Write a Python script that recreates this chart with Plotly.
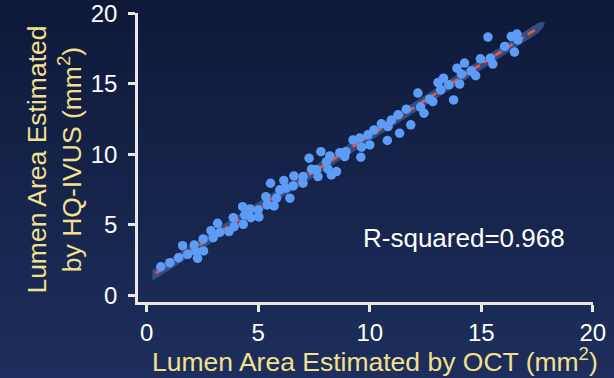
import numpy as np
import plotly.graph_objects as go

# Data (mm^2)
oct_area = [0.63, 1.04, 1.43, 1.61, 1.84, 2.13, 2.21, 2.28, 2.55, 2.53,
            2.88, 2.98, 3.18, 3.28, 3.69, 3.88, 3.92, 4.30, 4.33, 4.40,
            4.63, 4.67, 5.00, 5.03, 5.34, 5.40, 5.55, 5.71, 5.82, 5.97,
            6.15, 6.24, 6.42, 6.57, 6.60, 7.01, 7.01, 7.28, 7.39, 7.61,
            7.68, 7.81, 8.06, 8.13, 8.28, 8.21, 8.51, 8.66, 8.88, 8.93,
            9.25, 9.55, 9.63, 9.60, 9.92, 10.00, 10.19, 10.52, 10.79, 10.82,
            10.97, 11.27, 11.34, 11.64, 11.84, 12.16, 12.28, 12.43, 12.69, 12.83,
            13.06, 13.18, 13.31, 13.55, 13.76, 13.91, 14.03, 14.11, 14.25, 14.55,
            14.75, 14.96, 15.41, 15.52, 15.30, 16.05, 16.49, 16.35, 16.60, 16.64]
ivus_area = [2.02, 2.31, 2.66, 3.51, 2.90, 3.56, 3.09, 2.62, 3.14, 3.99,
             4.58, 4.08, 5.10, 4.46, 4.51, 5.50, 4.86, 6.28, 5.03, 5.69,
             6.12, 5.50, 6.05, 5.55, 6.99, 6.40, 7.94, 6.33, 6.88, 7.47,
             8.13, 7.59, 6.88, 7.75, 8.46, 8.41, 7.94, 9.72, 8.94, 8.89,
             8.41, 10.18, 9.47, 8.94, 8.53, 9.88, 8.77, 10.11, 9.83, 10.18,
             11.01, 11.14, 10.50, 9.79, 11.37, 10.66, 11.72, 12.15, 10.97, 11.96,
             12.43, 12.79, 11.49, 13.19, 12.08, 14.33, 13.34, 12.91, 13.90, 13.73,
             15.08, 14.56, 15.39, 14.92, 13.85, 16.10, 14.97, 15.68, 16.46, 15.91,
             15.56, 16.76, 16.81, 16.39, 18.30, 17.64, 17.24, 18.35, 18.52, 18.11]
r_squared_label = "R-squared=0.968"
x_title = "Lumen Area Estimated by OCT (mm<sup>2</sup>)"
y_title = "Lumen Area Estimated<br>by HQ-IVUS (mm<sup>2</sup>)"
x_ticks = [0, 5, 10, 15, 20]
y_ticks = [0, 5, 10, 15, 20]

x = np.array(oct_area)
y = np.array(ivus_area)
slope, intercept = np.polyfit(x, y, 1)

def f(v):
    return slope * v + intercept

# regression line extent and band (derived from fitted line)
x_start = x.min() - 0.22
x_end = x.max() + 0.75
xs = np.linspace(x_start - 0.15, x_end, 60)
half = 0.38
cap = 0.45
upper_y = f(xs) + half
lower_y = f(xs) - half
theta = np.linspace(0, np.pi, 30)
cap_x = x_end + cap * np.sin(theta)
cap_y = f(x_end) + cap * slope * np.sin(theta) + half * np.cos(theta)
band_x = np.concatenate([xs, cap_x, xs[::-1], [xs[0]]])
band_y = np.concatenate([upper_y, cap_y, lower_y[::-1], [upper_y[0]]])

fig = go.Figure()
fig.add_trace(go.Scatter(x=band_x, y=band_y, mode="lines", fill="toself",
                         fillcolor="rgba(70,110,175,0.6)",
                         line=dict(width=0), hoverinfo="skip", showlegend=False))
fig.add_trace(go.Scatter(x=[x_start, x_end], y=[f(x_start), f(x_end)], mode="lines",
                         line=dict(color="#e2574c", width=2.8, dash="8px,5px"),
                         showlegend=False))
fig.add_trace(go.Scatter(x=x, y=y, mode="markers",
                         marker=dict(color="#5d9cf6", size=9.5, line=dict(width=0)),
                         showlegend=False))

# vertical background gradient
shapes = []
n = 60
top_c = np.array([15, 26, 58])
bot_c = np.array([30, 47, 93])
y_top = 1 + 13 / 289
y_bot = -76 / 289
for i in range(n):
    t = i / (n - 1)
    c = top_c + (bot_c - top_c) * t
    y1 = y_top - (y_top - y_bot) * i / n
    y0 = y_top - (y_top - y_bot) * (i + 1) / n
    shapes.append(dict(type="rect", xref="paper", yref="paper",
                       x0=-0.35, x1=1.1, y0=y0 - 0.002, y1=y1 + 0.002,
                       fillcolor="rgb(%d,%d,%d)" % tuple(c.astype(int)),
                       line=dict(width=0), layer="below"))

font_family = "Liberation Sans, Arial"
axis_common = dict(showgrid=False, zeroline=False, showline=True,
                   linecolor="#e8e8e8", linewidth=2.5,
                   ticks="outside", ticklen=7, tickwidth=2.5, tickcolor="#e8e8e8",
                   ticklabeloverflow="allow", automargin=False,
                   tickfont=dict(family=font_family, size=24, color="#ffffff"))

title_font = dict(family=font_family, size=26.5, color="#f3e08c")

fig.update_layout(
    width=614, height=378,
    margin=dict(l=138, r=21, t=13, b=76, autoexpand=False),
    paper_bgcolor="#16244a", plot_bgcolor="rgba(0,0,0,0)",
    shapes=shapes,
    xaxis=dict(range=[-0.39, 20.01], tickvals=x_ticks, **axis_common),
    yaxis=dict(range=[-0.48, 20.01], tickvals=y_ticks, ticklabelstandoff=6, **axis_common),
    annotations=[
        dict(x=14.22, y=4.06, xref="x", yref="y", text=r_squared_label,
             showarrow=False,
             font=dict(family=font_family, size=26, color="#ffffff")),
        dict(x=0.521, y=-0.199, xref="paper", yref="paper", text=x_title,
             showarrow=False, font=title_font, xanchor="center", yanchor="middle"),
        dict(x=-0.1835, y=0.491, xref="paper", yref="paper", text=y_title,
             showarrow=False, font=title_font, textangle=-90,
             xanchor="center", yanchor="middle"),
    ],
)

fig.write_html("out.html", config={"displayModeBar": False},
               post_script="document.body.style.margin='0';document.body.style.overflow='hidden';")
